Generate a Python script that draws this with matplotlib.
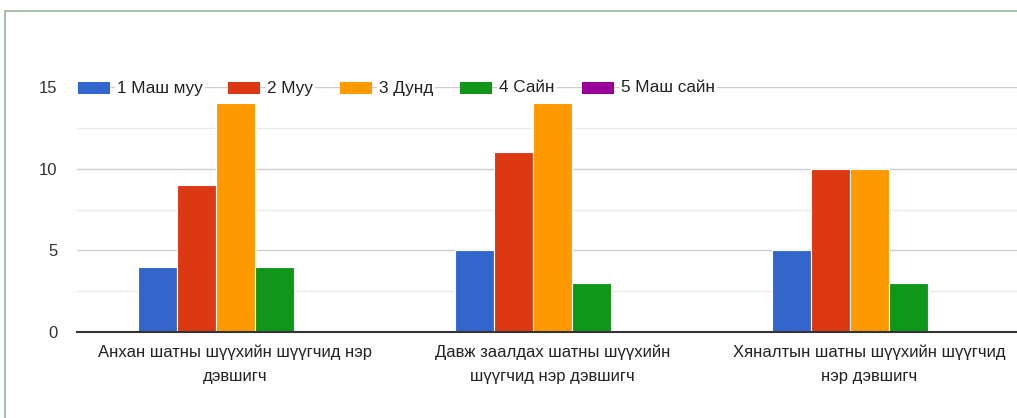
import matplotlib.pyplot as plt
import numpy as np
from matplotlib.patches import Rectangle

plt.rcParams['font.family'] = ['Liberation Sans', 'DejaVu Sans']

categories = [
    "Анхан шатны шүүхийн шүүгчид нэр\nдэвшигч",
    "Давж заалдах шатны шүүхийн\nшүүгчид нэр дэвшигч",
    "Хяналтын шатны шүүхийн шүүгчид\nнэр дэвшигч",
]
series_names = ["1 Маш муу", "2 Муу", "3 Дунд", "4 Сайн", "5 Маш сайн"]
very_bad = [4, 5, 5]
bad = [9, 11, 10]
average = [14, 14, 10]
good = [4, 3, 3]
very_good = [0, 0, 0]
series_values = [very_bad, bad, average, good, very_good]
colors = ["#3366cc", "#dc3912", "#ff9900", "#109618", "#990099"]

W, H = 1017, 418
fig = plt.figure(figsize=(W / 100, H / 100), dpi=100)

# thin frame around the card
fig.patches.append(Rectangle((5 / W, -0.1), 1.2, (H - 11) / H + 0.1,
                             transform=fig.transFigure, fill=False,
                             edgecolor="#9fb8a6", linewidth=1.3))

ax = fig.add_axes([77 / W, (H - 332) / H, (W - 77) / W, (332 - 87) / H])

x = np.arange(len(categories))
bar_w = 0.123
for i, (vals, col) in enumerate(zip(series_values, colors)):
    ax.bar(x + (i - 2) * bar_w, vals, width=bar_w, color=col,
           edgecolor="white", linewidth=0.8, zorder=3)

px_per_unit = 317
ax.set_xlim(-0.5, (W - 77) / px_per_unit - 0.5)
ax.set_ylim(0, 15)
ax.set_yticks([0, 5, 10, 15])
ax.set_yticks([2.5, 7.5, 12.5], minor=True)
ax.grid(axis="y", which="major", color="#cccccc", linewidth=1, zorder=0)
ax.grid(axis="y", which="minor", color="#ebebeb", linewidth=1, zorder=0)
ax.tick_params(axis="y", which="both", length=0, pad=14, labelsize=12, labelcolor="#333333")
ax.set_xticks(x)
ax.set_xticklabels(categories, fontsize=12, color="#222222", linespacing=1.75)
ax.tick_params(axis="x", length=0, pad=9)
for s in ["top", "right", "left"]:
    ax.spines[s].set_visible(False)
ax.spines["bottom"].set_color("#333333")
ax.spines["bottom"].set_linewidth(1.5)
ax.spines["bottom"].set_zorder(4)

# legend drawn by hand so the 15 gridline shows between entries
swatch_x = [78, 228, 340, 460, 582]
legend_y = 88
for sx, name, col in zip(swatch_x, series_names, colors):
    fig.patches.append(Rectangle((sx / W, (H - legend_y - 6) / H), 32 / W, 12 / H,
                                 transform=fig.transFigure, facecolor=col,
                                 edgecolor="none", zorder=5))
    fig.text((sx + 39) / W, (H - legend_y) / H, name, fontsize=12.3,
             color="#222222", va="center", ha="left", zorder=6,
             bbox=dict(facecolor="white", edgecolor="none", pad=1.5))

fig.savefig("out.png", dpi=100)
